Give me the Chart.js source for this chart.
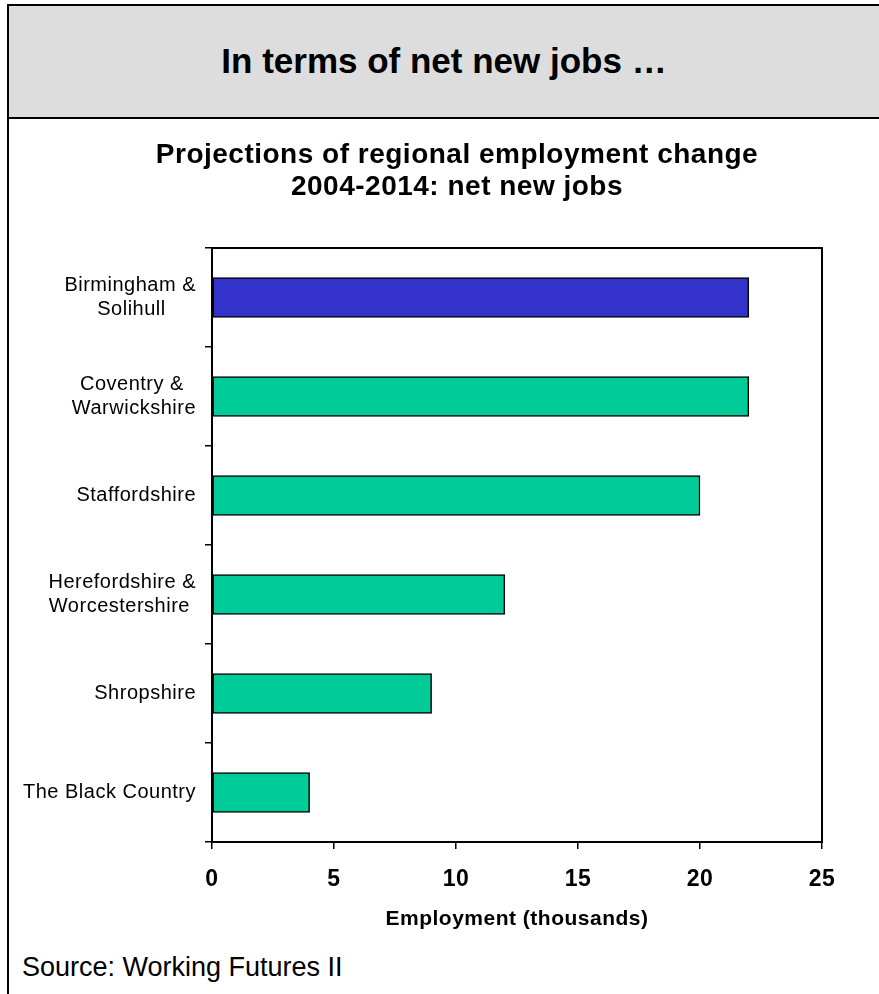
<!DOCTYPE html>
<html>
<head>
<meta charset="utf-8">
<script src="https://cdn.jsdelivr.net/npm/chart.js@4.4.1/dist/chart.umd.min.js"></script>
<style>
  body { margin: 0; width: 879px; height: 994px; background: #fff; position: relative; overflow: hidden; font-family: "Liberation Sans", Arial, sans-serif; }
  #frame { position: absolute; left: 7px; top: 4px; width: 2px; height: 990px; background: #000; }
  #header { position: absolute; left: 7px; top: 4px; width: 872px; height: 115px; background: #dddddd; border-top: 2px solid #000; border-left: 2px solid #000; border-bottom: 2px solid #000; box-sizing: border-box; }
  #header h1 { margin: 0; text-align: center; font-size: 35px; font-weight: bold; line-height: 109px; color: #000; }
  #wrap { position: absolute; left: 9px; top: 120px; width: 896px; height: 830px; }
  #source { position: absolute; left: 22px; top: 952px; font-size: 27px; color: #000; }
</style>
</head>
<body>
<div id="frame"></div>
<div id="header"><h1>In terms of net new jobs …</h1></div>
<div id="wrap"><canvas id="chartEmpleo"></canvas></div>
<div id="source">Source: Working Futures II</div>

<script>
// Datos
const regiones = [
  ["Birmingham &", "Solihull"],
  ["Coventry &", "Warwickshire"],
  "Staffordshire",
  ["Herefordshire &", "Worcestershire"],
  "Shropshire",
  "The Black Country"
];
const empleosNetos = [22, 22, 20, 12, 9, 4];
const ticksX = [0, 5, 10, 15, 20, 25];

const tituloGrafico = ["Projections of regional employment change", "2004-2014: net new jobs"];
const tituloEjeX = "Employment (thousands)";

const espaciado = "0.5px";
const fuenteEtiquetas = { family: "Liberation Sans, Arial", size: 20 };

// Centrar las líneas de cada etiqueta (rellenando con espacios la más corta)
const medidor = document.createElement("canvas").getContext("2d");
medidor.font = fuenteEtiquetas.size + "px " + fuenteEtiquetas.family;
medidor.letterSpacing = espaciado;
function centrarLineas(label) {
  if (!Array.isArray(label)) return label;
  const anchos = label.map(l => medidor.measureText(l).width);
  const maximo = Math.max(...anchos);
  const espacio = medidor.measureText(" ").width;
  return label.map((l, i) => l + " ".repeat(Math.round((maximo - anchos[i]) / 2 / espacio)));
}

// Marco alrededor del área del gráfico
const marcoPlugin = {
  id: "marco",
  beforeDraw(chart) {
    chart.ctx.letterSpacing = espaciado;
  },
  afterDraw(chart) {
    const { ctx, chartArea } = chart;
    ctx.save();
    ctx.strokeStyle = "#000";
    ctx.lineWidth = 2;
    ctx.strokeRect(chartArea.left, chartArea.top, chartArea.right - chartArea.left, chartArea.bottom - chartArea.top);
    ctx.restore();
    ctx.letterSpacing = "0px";
  }
};

const ctx = document.getElementById("chartEmpleo");

new Chart(ctx, {
  type: "bar",
  data: {
    labels: regiones,
    datasets: [{
      data: empleosNetos,
      backgroundColor: empleosNetos.map((v, i) => (i === 0 ? "#3333cc" : "#00cc99")),
      borderColor: "#000",
      borderWidth: 1.5,
      borderSkipped: false,
      barThickness: 40
    }]
  },
  options: {
    indexAxis: "y",
    responsive: true,
    maintainAspectRatio: false,
    animation: false,
    layout: { padding: 0 },
    plugins: {
      legend: { display: false },
      tooltip: { enabled: false },
      title: {
        display: true,
        text: tituloGrafico,
        color: "#000",
        font: { family: "Liberation Sans, Arial", size: 28, weight: "bold", lineHeight: 1.143 },
        padding: { top: 19, bottom: 45 }
      }
    },
    scales: {
      x: {
        min: 0,
        max: 25,
        afterBuildTicks(scale) {
          scale.ticks = ticksX.map(v => ({ value: v }));
        },
        afterFit(scale) { scale.height = 108; },
        border: { color: "#000", width: 2 },
        grid: { drawOnChartArea: false, color: "#000", tickLength: 7, lineWidth: 1.5 },
        ticks: {
          color: "#000",
          padding: 17,
          font: { family: "Liberation Sans, Arial", size: 23, weight: "bold" }
        },
        title: {
          display: true,
          text: tituloEjeX,
          color: "#000",
          font: { family: "Liberation Sans, Arial", size: 21, weight: "bold" },
          padding: { top: 0, bottom: 18 }
        }
      },
      y: {
        afterFit(scale) { scale.width = 203; },
        border: { color: "#000", width: 2 },
        grid: { drawOnChartArea: false, color: "#000", tickLength: 7, lineWidth: 1.5, offset: true },
        ticks: {
          color: "#000",
          padding: 9,
          font: fuenteEtiquetas,
          callback(value) {
            return centrarLineas(regiones[value]);
          }
        }
      },
      // eje vacío a la derecha, solo reserva el margen
      margen: {
        type: "linear",
        position: "right",
        afterFit(scale) { scale.width = 83; },
        ticks: { display: false },
        grid: { display: false },
        border: { display: false }
      }
    }
  },
  plugins: [marcoPlugin]
});
</script>
</body>
</html>
